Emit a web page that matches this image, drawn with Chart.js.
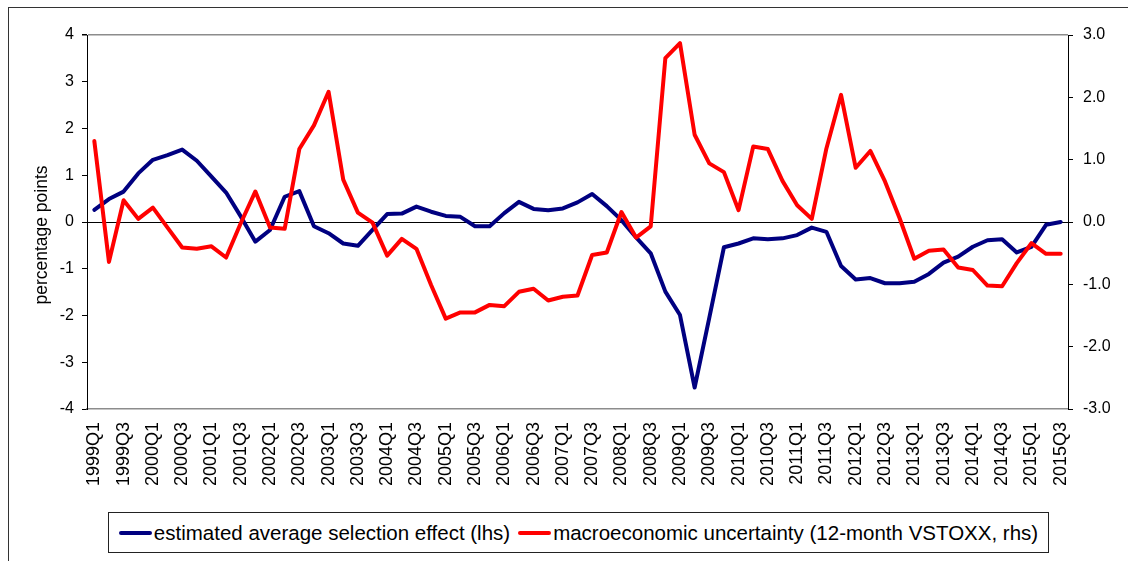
<!DOCTYPE html>
<html>
<head>
<meta charset="utf-8">
<script src="https://cdn.jsdelivr.net/npm/chart.js@4.4.1/dist/chart.umd.min.js"></script>
<style>
  html, body { margin: 0; padding: 0; background: #fff; }
  #wrap { position: relative; width: 1128px; height: 561px; overflow: hidden; font-family: "Liberation Sans", Arial, sans-serif; }
  #frame { position: absolute; left: 8px; top: 7px; width: 1130px; height: 560px; border-top: 1px solid #333; border-left: 1px solid #333; pointer-events: none; }
  #chartBox { position: absolute; left: 0; top: 0; width: 1128px; height: 561px; }
  #legend { position: absolute; left: 108px; top: 512px; width: 939px; height: 39px; border: 1px solid #222; background: #fff;
            display: flex; align-items: center; justify-content: center; gap: 8px; font-size: 20.5px; color: #000; white-space: nowrap; }
  .item { display: flex; align-items: center; }
  .swatch { display: inline-block; width: 33px; height: 4px; border-radius: 2px; margin-right: 2px; }
</style>
</head>
<body>
<div id="wrap">
  <div id="chartBox"><canvas id="c"></canvas></div>
  <div id="frame"></div>
  <div id="legend"></div>
</div>
<script>
const quarters = [
  "1999Q1","1999Q2","1999Q3","1999Q4","2000Q1","2000Q2","2000Q3","2000Q4",
  "2001Q1","2001Q2","2001Q3","2001Q4","2002Q1","2002Q2","2002Q3","2002Q4",
  "2003Q1","2003Q2","2003Q3","2003Q4","2004Q1","2004Q2","2004Q3","2004Q4",
  "2005Q1","2005Q2","2005Q3","2005Q4","2006Q1","2006Q2","2006Q3","2006Q4",
  "2007Q1","2007Q2","2007Q3","2007Q4","2008Q1","2008Q2","2008Q3","2008Q4",
  "2009Q1","2009Q2","2009Q3","2009Q4","2010Q1","2010Q2","2010Q3","2010Q4",
  "2011Q1","2011Q2","2011Q3","2011Q4","2012Q1","2012Q2","2012Q3","2012Q4",
  "2013Q1","2013Q2","2013Q3","2013Q4","2014Q1","2014Q2","2014Q3","2014Q4",
  "2015Q1","2015Q2","2015Q3"
];

const selectionEffect = [
  0.26, 0.49, 0.65, 1.04, 1.33, 1.43, 1.55, 1.31,
  0.97, 0.63, 0.12, -0.42, -0.17, 0.54, 0.66, -0.09,
  -0.24, -0.46, -0.51, -0.17, 0.17, 0.18, 0.33, 0.22,
  0.13, 0.11, -0.09, -0.09, 0.19, 0.43, 0.28, 0.25,
  0.29, 0.42, 0.60, 0.34, 0.04, -0.33, -0.67, -1.49,
  -1.99, -3.54, -2.05, -0.54, -0.46, -0.35, -0.37, -0.35,
  -0.28, -0.12, -0.21, -0.94, -1.23, -1.20, -1.31, -1.31,
  -1.28, -1.11, -0.87, -0.74, -0.53, -0.39, -0.37, -0.65,
  -0.53, -0.06, 0.00
];

const uncertainty = [
  1.30, -0.64, 0.35, 0.05, 0.23, -0.09, -0.41, -0.43,
  -0.39, -0.57, -0.02, 0.49, -0.09, -0.11, 1.17, 1.55,
  2.09, 0.68, 0.15, -0.01, -0.54, -0.27, -0.43, -1.01,
  -1.55, -1.45, -1.45, -1.33, -1.35, -1.12, -1.07, -1.26,
  -1.20, -1.18, -0.53, -0.49, 0.16, -0.25, -0.07, 2.63,
  2.87, 1.40, 0.94, 0.80, 0.19, 1.21, 1.17, 0.66,
  0.27, 0.05, 1.18, 2.04, 0.87, 1.14, 0.65, 0.06,
  -0.59, -0.46, -0.44, -0.73, -0.77, -1.02, -1.03, -0.66,
  -0.34, -0.51, -0.51
];

const seriesLabels = [
  "estimated average selection effect (lhs)",
  "macroeconomic uncertainty (12-month VSTOXX, rhs)"
];
const seriesColors = ["#000080", "#FF0000"];
const leftTitle = "percentage points";

const FONT = "'Liberation Sans', Arial, sans-serif";

// Left axis title drawn slightly below the axis middle, as in the original
const axisTitlePlugin = {
  id: 'axisTitle',
  afterDraw: function(chart) {
    const ctx = chart.ctx, area = chart.chartArea;
    ctx.save();
    ctx.translate(42, (area.top + area.bottom) / 2 + 13);
    ctx.rotate(-Math.PI / 2);
    ctx.fillStyle = '#000';
    ctx.font = "17.5px " + FONT;
    ctx.textAlign = 'center';
    ctx.textBaseline = 'middle';
    ctx.fillText(leftTitle, 0, 0);
    ctx.restore();
  }
};

const chart = new Chart(document.getElementById('c'), {
  type: 'line',
  data: {
    labels: quarters,
    datasets: [
      { label: seriesLabels[0], data: selectionEffect, yAxisID: 'y', borderColor: seriesColors[0], backgroundColor: seriesColors[0],
        borderWidth: 4, pointRadius: 0, tension: 0, order: 2, borderJoinStyle: 'round', borderCapStyle: 'round' },
      { label: seriesLabels[1], data: uncertainty, yAxisID: 'y1', borderColor: seriesColors[1], backgroundColor: seriesColors[1],
        borderWidth: 4, pointRadius: 0, tension: 0, order: 1, borderJoinStyle: 'round', borderCapStyle: 'round' }
    ]
  },
  plugins: [axisTitlePlugin],
  options: {
    responsive: true,
    maintainAspectRatio: false,
    animation: false,
    events: [],
    layout: { padding: { top: 35, left: 0, right: 0, bottom: 0 } },
    plugins: { legend: { display: false }, tooltip: { enabled: false } },
    scales: {
      x: {
        type: 'category',
        offset: true,
        grid: { display: true, drawOnChartArea: false, drawTicks: false, color: 'rgba(0,0,0,0)' },
        border: { display: true, color: '#8c8c8c', width: 1.5 },
        ticks: {
          autoSkip: false, minRotation: 90, maxRotation: 90, padding: 13,
          color: '#000', font: { family: FONT, size: 18 },
          callback: function(v, i) { return i % 2 === 0 ? quarters[i] : ''; }
        },
        afterFit: function(s) { s.height = 152; }
      },
      y: {
        position: 'left',
        min: -4, max: 4,
        ticks: { stepSize: 1, color: '#000', padding: 8, font: { family: FONT, size: 16 } },
        grid: {
          drawTicks: true, tickLength: 5,
          color: function(ctx) {
            const v = ctx.tick && ctx.tick.value;
            if (v === 0) return '#000';
            if (v === 4) return '#8c8c8c';
            return 'rgba(0,0,0,0)';
          },
          lineWidth: function(ctx) { const v = ctx.tick && ctx.tick.value; return v === 4 ? 1.5 : 1; },
          tickColor: '#000'
        },
        border: { display: true, color: '#000', width: 1 },
        afterFit: function(s) { s.width = 87; }
      },
      y1: {
        position: 'right',
        min: -3, max: 3,
        ticks: { stepSize: 1, color: '#000', padding: 10, font: { family: FONT, size: 16 },
                 callback: function(v) { return Number(v).toFixed(1); } },
        grid: { drawOnChartArea: false, drawTicks: true, tickLength: 5, tickColor: '#000' },
        border: { display: true, color: '#000', width: 1 },
        afterFit: function(s) { s.width = 60; }
      }
    }
  }
});

const leg = document.getElementById('legend');
seriesLabels.forEach(function(lbl, i) {
  const it = document.createElement('span'); it.className = 'item';
  const sw = document.createElement('span'); sw.className = 'swatch'; sw.style.background = seriesColors[i];
  const tx = document.createElement('span'); tx.textContent = lbl;
  it.appendChild(sw); it.appendChild(tx); leg.appendChild(it);
});
</script>
</body>
</html>
